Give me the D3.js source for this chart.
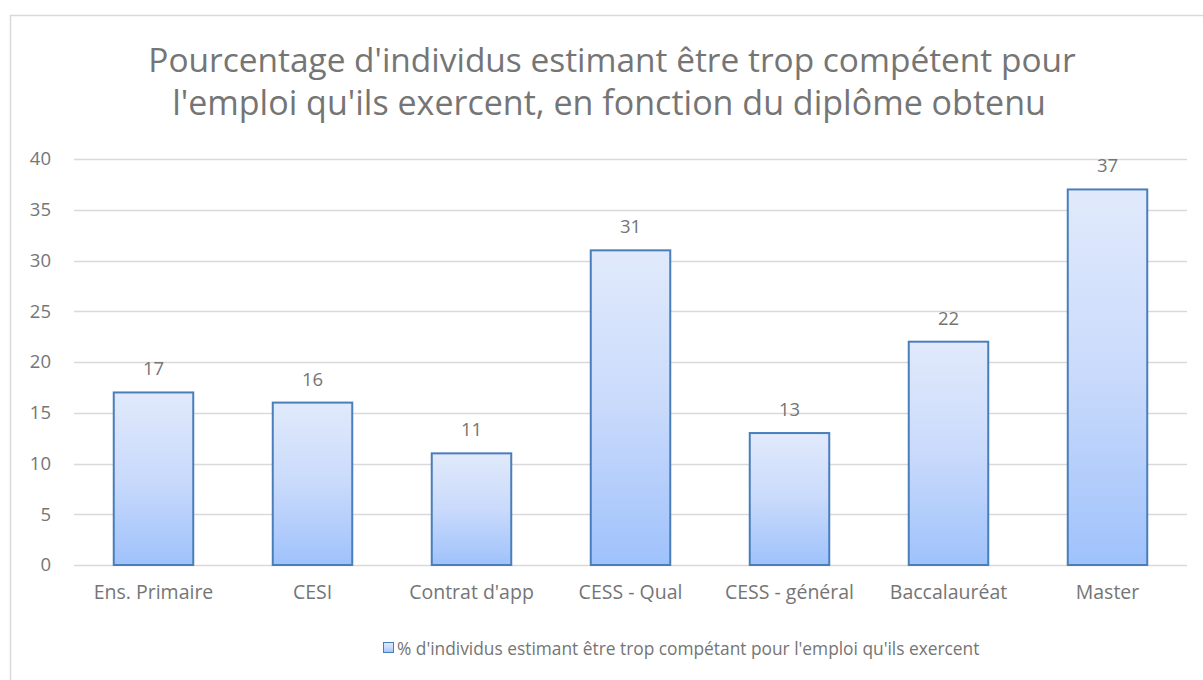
<!DOCTYPE html>
<html>
<head>
<meta charset="utf-8">
<script src="https://cdn.jsdelivr.net/npm/d3@7"></script>
<style>
  body { margin: 0; background: #fff; }
  text { font-family: "Open Sans", "Noto Sans", sans-serif; fill: #757575; }
</style>
</head>
<body>
<script>
const categories = ['Ens. Primaire', 'CESI', "Contrat d'app", 'CESS - Qual', 'CESS - général', 'Baccalauréat', 'Master'];
const values = [17, 16, 11, 31, 13, 22, 37];
const yTicks = [0, 5, 10, 15, 20, 25, 30, 35, 40];
const titleLines = ["Pourcentage d'individus estimant être trop compétent pour", "l'emploi qu'ils exercent, en fonction du diplôme obtenu"];
const legendLabel = "% d'individus estimant être trop compétant pour l'emploi qu'ils exercent";

const width = 1203;
const height = 680;
const margins = { left: 74, right: 16, top: 159, bottom: 115 };

// fit text to a target pixel width by scaling the font size
function fitText(sel, target) {
  const w = sel.node().getComputedTextLength();
  const fs = parseFloat(sel.attr('font-size'));
  sel.attr('font-size', fs * target / w);
}

const svg = d3.select('body').append('svg')
    .attr('width', width)
    .attr('height', height);

const defs = svg.append('defs');
const grad = defs.append('linearGradient')
    .attr('id', 'barGradient')
    .attr('x1', '0%').attr('y1', '0%')
    .attr('x2', '0%').attr('y2', '100%');
grad.append('stop').attr('offset', '0%').attr('stop-color', '#e1eafb');
grad.append('stop').attr('offset', '50%').attr('stop-color', '#c9dafb');
grad.append('stop').attr('offset', '100%').attr('stop-color', '#9fc2fb');

// chart border
svg.append('rect')
    .attr('x', 10.5).attr('y', 15.5)
    .attr('width', width + 20).attr('height', height + 20)
    .attr('fill', '#fff')
    .attr('stroke', '#d9d9d9')
    .attr('stroke-width', 1.5);

const title = svg.append('g');
title.append('text')
    .attr('x', 612).attr('y', 72)
    .attr('text-anchor', 'middle')
    .attr('font-size', 32)
    .attr('fill', '#7a7a7a')
    .text(titleLines[0])
    .call(fitText, 928);
title.append('text')
    .attr('x', 609).attr('y', 115)
    .attr('text-anchor', 'middle')
    .attr('font-size', 32)
    .attr('fill', '#7a7a7a')
    .text(titleLines[1])
    .call(fitText, 874);

const x = d3.scaleBand()
    .domain(categories)
    .range([margins.left, width - margins.right])
    .paddingInner(0.5)
    .paddingOuter(0.25);

const y = d3.scaleLinear()
    .domain([0, 40])
    .range([height - margins.bottom, margins.top]);

// gridlines
svg.append('g')
  .selectAll('line')
  .data(yTicks)
  .join('line')
    .attr('x1', margins.left)
    .attr('x2', width - margins.right)
    .attr('y1', d => Math.round(y(d)) + 0.5)
    .attr('y2', d => Math.round(y(d)) + 0.5)
    .attr('stroke', '#d9d9d9')
    .attr('stroke-width', 1.5);

// y axis labels
const yAxis = d3.axisLeft(y).tickValues(yTicks).tickSize(0).tickPadding(0);
svg.append('g')
    .attr('transform', `translate(${margins.left - 23},0)`)
    .call(yAxis)
    .call(g => g.select('.domain').remove())
    .call(g => g.selectAll('text')
        .attr('font-size', 18.5)
        .attr('fill', '#757575')
        .attr('font-family', '"Open Sans", sans-serif'));

// x axis labels
const xAxis = d3.axisBottom(x).tickSize(0).tickPadding(20);
svg.append('g')
    .attr('transform', `translate(0,${y(0)})`)
    .call(xAxis)
    .call(g => g.select('.domain').remove())
    .call(g => g.selectAll('text')
        .attr('font-size', 19.5)
        .attr('fill', '#757575')
        .attr('font-family', '"Open Sans", sans-serif'));

// bars
svg.append('g')
  .selectAll('rect')
  .data(values)
  .join('rect')
    .attr('x', (d, i) => x(categories[i]))
    .attr('y', d => y(d))
    .attr('width', x.bandwidth())
    .attr('height', d => y(0) - y(d))
    .attr('fill', 'url(#barGradient)')
    .attr('stroke', '#4a7ebb')
    .attr('stroke-width', 2);

// data labels
svg.append('g')
  .selectAll('text')
  .data(values)
  .join('text')
    .attr('x', (d, i) => x(categories[i]) + x.bandwidth() / 2)
    .attr('y', d => y(d) - 17)
    .attr('text-anchor', 'middle')
    .attr('font-size', 18.5)
    .text(d => d);

// legend
const legend = svg.append('g');
legend.append('rect')
    .attr('x', 383.5).attr('y', 642.5)
    .attr('width', 10).attr('height', 10)
    .attr('fill', 'url(#barGradient)')
    .attr('stroke', '#4a7ebb')
    .attr('stroke-width', 1);
legend.append('text')
    .attr('x', 397).attr('y', 655)
    .attr('font-size', 18)
    .text(legendLabel)
    .call(fitText, 583);
</script>
</body>
</html>
